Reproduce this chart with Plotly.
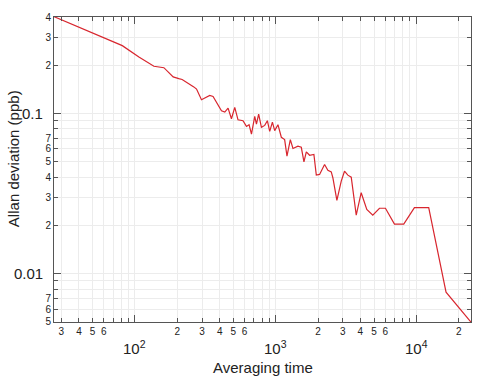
import plotly.graph_objects as go
import math

# Data (averaging time, Allan deviation in ppb)
tau = [26.6, 81.3, 106.7, 136.4, 160.6, 186.9, 205, 216.5, 262, 274,
       297, 340, 359, 412, 435, 459, 485, 512, 540, 586,
       620, 647, 673, 710, 730, 757, 792, 836, 873, 907,
       948, 984, 1038, 1097, 1158, 1203, 1271, 1327, 1439, 1521,
       1588, 1651, 1742, 1869, 1944, 2051, 2226, 2349, 2483, 2549,
       2722, 2924, 3084, 3257, 3443, 3736, 4052, 4441, 4898, 5465,
       6026, 6982, 8128, 9680, 12230, 16240, 24430]
adev = [0.402, 0.265, 0.225, 0.197, 0.193, 0.169, 0.165, 0.163, 0.1465, 0.142,
        0.1217, 0.1294, 0.1275, 0.104, 0.1019, 0.108, 0.0927, 0.109, 0.0913, 0.0901,
        0.0830, 0.0851, 0.0744, 0.0958, 0.0858, 0.099, 0.0819, 0.0842, 0.0901, 0.0773,
        0.0883, 0.0781, 0.0851, 0.0710, 0.0687, 0.0541, 0.0687, 0.0604, 0.0624, 0.0615,
        0.0498, 0.0575, 0.0548, 0.0554, 0.0412, 0.0416, 0.0480, 0.0441, 0.0432, 0.0397,
        0.0287, 0.0378, 0.0436, 0.0412, 0.0400, 0.0232, 0.0320, 0.0252, 0.0232, 0.0256,
        0.0256, 0.0204, 0.0204, 0.0258, 0.0258, 0.00766, 0.00498]

# Tick positions / labels
x_minor_vals = [30, 40, 50, 60, 70, 80, 90,
                200, 300, 400, 500, 600, 700, 800, 900,
                2000, 3000, 4000, 5000, 6000, 7000, 8000, 9000,
                20000]
x_minor_text = ["3", "4", "5", "6", "", "", "",
                "2", "3", "4", "5", "6", "", "", "",
                "2", "3", "4", "5", "6", "", "", "",
                "2"]
x_major_vals = [100, 1000, 10000]
x_major_text = ["10<sup>2</sup>", "10<sup>3</sup>", "10<sup>4</sup>"]

y_minor_vals = [0.2, 0.3, 0.4,
                0.02, 0.03, 0.04, 0.05, 0.06, 0.07, 0.08, 0.09,
                0.005, 0.006, 0.007, 0.008, 0.009]
y_minor_text = ["2", "3", "4",
                "2", "3", "4", "5", "6", "7", "", "",
                "5", "6", "7", "", ""]
y_major_vals = [0.1, 0.01]
y_major_text = ["0.1", "0.01"]

FONT = "Liberation Sans"
AX = "#555555"
GRID = "#ececec"

fig = go.Figure()
fig.add_trace(go.Scatter(x=tau, y=adev, mode="lines",
                         line=dict(color="#d8262e", width=1.2),
                         showlegend=False, hoverinfo="skip"))

common = dict(showline=True, linecolor=AX, linewidth=1, mirror="ticks",
              ticks="inside", ticklen=4, tickcolor=AX, tickwidth=1,
              showgrid=True, gridcolor=GRID, gridwidth=1, zeroline=False,
              tickfont=dict(family=FONT, size=10, color="#222222"),
              tickmode="array")

fig.update_xaxes(type="log", range=[math.log10(26.6), math.log10(24430)],
                 tickvals=x_minor_vals + x_major_vals,
                 ticktext=x_minor_text + ["", "", ""],
                 minor=dict(tickmode="array", tickvals=x_major_vals, ticks="inside",
                            ticklen=7, tickcolor=AX, showgrid=False),
                 **common)
fig.update_yaxes(type="log", range=[math.log10(0.00499), math.log10(0.4)],
                 tickvals=y_minor_vals + y_major_vals,
                 ticktext=y_minor_text + ["", ""],
                 minor=dict(tickmode="array", tickvals=y_major_vals, ticks="inside",
                            ticklen=7, tickcolor=AX, showgrid=False),
                 **common)

annotations = []
for v, t in zip(x_major_vals, x_major_text):
    annotations.append(dict(x=math.log10(v), xref="x", y=0, yref="paper",
                            text=t, showarrow=False, yanchor="top", xanchor="center",
                            yshift=-14, font=dict(family=FONT, size=15, color="#222222")))
for v, t in zip(y_major_vals, y_major_text):
    annotations.append(dict(x=0, xref="paper", y=math.log10(v), yref="y",
                            text=t, showarrow=False, xanchor="right", yanchor="middle",
                            xshift=-9, font=dict(family=FONT, size=15, color="#222222")))
annotations.append(dict(x=0.5, xref="paper", y=0, yref="paper", text="Averaging time",
                        showarrow=False, xanchor="center", yanchor="middle", yshift=-45,
                        font=dict(family=FONT, size=15, color="#222222")))
annotations.append(dict(x=0, xref="paper", y=0.534, yref="paper", text="Allan deviation (ppb)",
                        showarrow=False, xanchor="center", yanchor="middle", xshift=-41,
                        textangle=-90, font=dict(family=FONT, size=15, color="#222222")))

fig.update_layout(width=483, height=376, margin=dict(l=54, r=11, t=15, b=54),
                  paper_bgcolor="white", plot_bgcolor="white",
                  annotations=annotations)

fig.write_html("out.html", config={"displayModeBar": False},
               post_script="document.body.style.margin='0';document.body.style.padding='0';")
